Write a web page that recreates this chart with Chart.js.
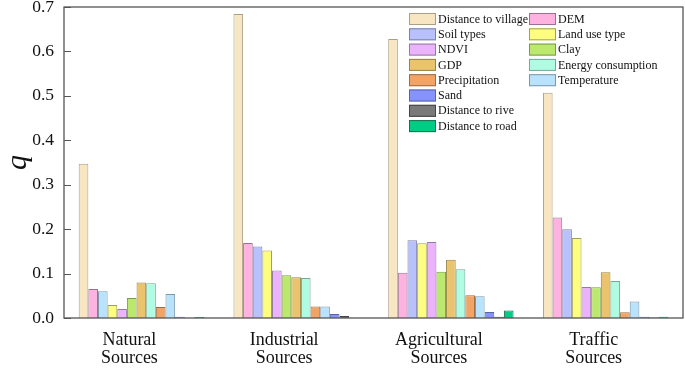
<!DOCTYPE html>
<html>
<head>
<meta charset="utf-8">
<script src="https://cdn.jsdelivr.net/npm/chart.js@4"></script>
<style>
  html, body { margin: 0; padding: 0; background: #fff; }
  #wrap { width: 685px; height: 369px; }
</style>
</head>
<body>
<div id="wrap"><canvas id="myChart" width="685" height="369"></canvas></div>
<script>
const categories = [
  ["Natural", "Sources"],
  ["Industrial", "Sources"],
  ["Agricultural", "Sources"],
  ["Traffic", "Sources"]
];

const factorNames = [
  "Distance to village", "DEM", "Soil types", "Land use type", "NDVI", "Clay",
  "GDP", "Energy consumption", "Precipitation", "Temperature", "Sand",
  "Distance to rive", "Distance to road"
];

// q values per factor, order: Natural, Industrial, Agricultural, Traffic
const distVillage = [0.347, 0.684, 0.628, 0.507];
const dem         = [0.065, 0.169, 0.102, 0.226];
const soilTypes   = [0.060, 0.161, 0.175, 0.200];
const landUse     = [0.029, 0.152, 0.168, 0.180];
const ndvi        = [0.020, 0.107, 0.171, 0.070];
const clay        = [0.045, 0.096, 0.104, 0.069];
const gdp         = [0.080, 0.092, 0.131, 0.103];
const energy      = [0.078, 0.090, 0.110, 0.083];
const precip      = [0.025, 0.026, 0.051, 0.013];
const temperature = [0.054, 0.026, 0.049, 0.037];
const sand        = [0.003, 0.009, 0.0135, 0.003];
const distRiver   = [0.000, 0.0045, 0.003, 0.001];
const distRoad    = [0.002, 0.000, 0.017, 0.003];

const yTicks = [0.0, 0.1, 0.2, 0.3, 0.4, 0.5, 0.6, 0.7];

const seriesValues = [distVillage, dem, soilTypes, landUse, ndvi, clay, gdp,
  energy, precip, temperature, sand, distRiver, distRoad];

const colors = [
  "#F8E6C2", "#FDB2DF", "#B9C1FD", "#FDFD80", "#EBB3FB", "#BBE96E",
  "#EAC46C", "#B0FCE2", "#F2A466", "#B9E3FC", "#8693FC", "#7A7A7A", "#00CC85"
];
const borders = [
  "#A99E88", "#9A7290", "#7C82A8", "#A0A055", "#957BA0", "#7C9A4C",
  "#9A8248", "#76A896", "#A06C44", "#7A98AA", "#5A62AA", "#444444", "#1C6E50"
];

const datasets = factorNames.map((name, i) => {
  let bg = colors[i];
  let bd = borders[i];
  if (name === "Soil types") {
    // first group drawn in light blue in the original figure
    bg = [colors[9], colors[i], colors[i], colors[i]];
    bd = [borders[9], borders[i], borders[i], borders[i]];
  }
  return {
    label: name,
    data: seriesValues[i],
    backgroundColor: bg,
    borderColor: bd,
    borderWidth: 1,
    legendColor: colors[i],
    legendBorder: borders[i]
  };
});

const serif = "'Liberation Serif', 'Times New Roman', serif";

const framePlugin = {
  id: "frame",
  afterDatasetsDraw(chart) {
    const ctx = chart.ctx;
    const a = chart.chartArea;
    const y = chart.scales.y;
    ctx.save();
    ctx.strokeStyle = "#555";
    ctx.lineWidth = 1.3;
    ctx.strokeRect(a.left, a.top, a.right - a.left, a.bottom - a.top);
    // inward tick marks on the y axis
    ctx.lineWidth = 1;
    y.ticks.forEach(t => {
      const py = Math.round(y.getPixelForValue(t.value)) + 0.5;
      ctx.beginPath();
      ctx.moveTo(a.left, py);
      ctx.lineTo(a.left + 7, py);
      ctx.stroke();
    });
    // legend, two columns filled top to bottom
    const layout = [
      [0, 0], [1, 0], [2, 1], [3, 1], [4, 2], [5, 2], [6, 3], [7, 3],
      [8, 4], [9, 4], [10, 5], [11, 6], [12, 7]
    ];
    const colOf = i => ([1, 3, 5, 7, 9].includes(i) ? 1 : 0);
    ctx.font = "12px " + serif;
    ctx.textBaseline = "middle";
    ctx.textAlign = "left";
    layout.forEach(([i, row]) => {
      const ds = chart.data.datasets[i];
      const x0 = colOf(i) === 0 ? 409 : 529;
      const yc = 19 + row * 15.3;
      ctx.fillStyle = ds.legendColor;
      ctx.fillRect(x0, yc - 6, 27, 12);
      ctx.strokeStyle = ds.legendBorder;
      ctx.strokeRect(x0 + 0.5, yc - 5.5, 26, 11);
      ctx.fillStyle = "#111";
      ctx.fillText(ds.label, x0 + 29, yc + 0.5);
    });
    ctx.restore();
  }
};

const config = {
  type: "bar",
  data: { labels: categories, datasets: datasets },
  options: {
    responsive: false,
    animation: false,
    layout: { padding: { top: 7, right: 2, left: 0, bottom: 0 } },
    plugins: { legend: { display: false }, tooltip: { enabled: false } },
    datasets: { bar: { categoryPercentage: 0.81, barPercentage: 1.0 } },
    scales: {
      x: {
        grid: { display: false, drawTicks: false },
        border: { display: false },
        ticks: {
          color: "#111",
          font: { family: serif, size: 18, lineHeight: 1.0 },
          padding: 13,
          labelOffset: -12,
          maxRotation: 0
        },
        afterFit(scale) { scale.height = 51; scale.paddingLeft = 0; scale.paddingRight = 0; }
      },
      y: {
        min: 0,
        max: 0.7,
        afterBuildTicks(scale) { scale.ticks = yTicks.map(v => ({ value: v })); },
        grid: { display: false, drawTicks: false },
        border: { display: false },
        ticks: {
          color: "#111",
          font: { family: serif, size: 17.5 },
          padding: 10,
          callback: v => v.toFixed(1)
        },
        title: {
          display: true,
          text: "q",
          color: "#111",
          font: { family: serif, size: 30, style: "italic" },
          padding: { top: 0, bottom: 0 }
        },
        afterFit(scale) { scale.width = 64; scale.paddingTop = 0; scale.paddingBottom = 0; }
      }
    }
  },
  plugins: [framePlugin]
};

var myChart = new Chart(document.getElementById("myChart"), config);
</script>
</body>
</html>
